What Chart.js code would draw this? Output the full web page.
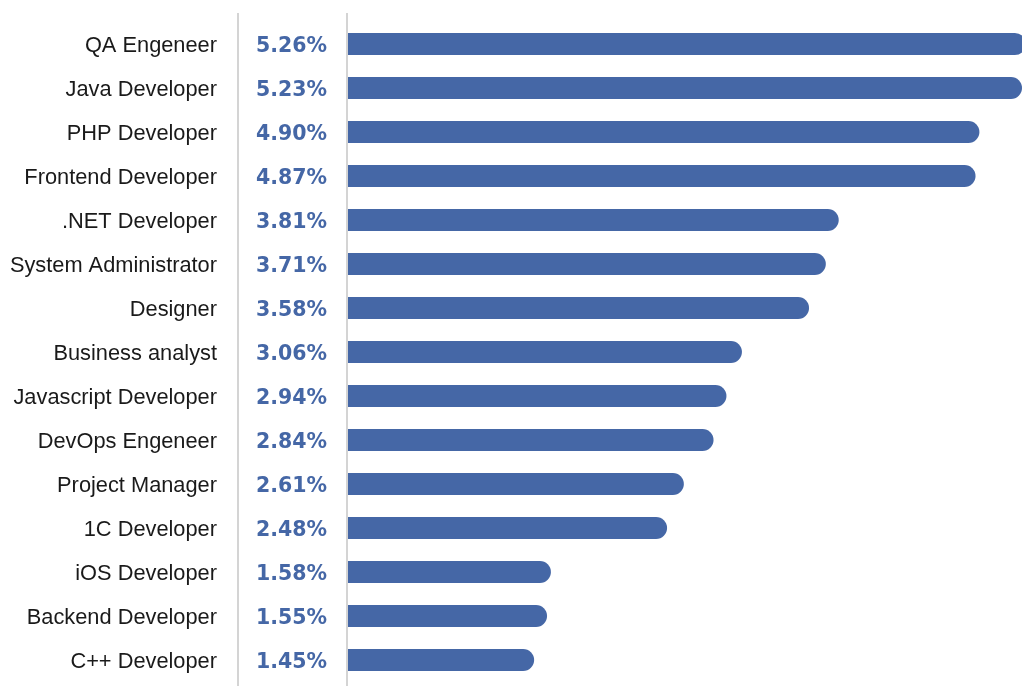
<!DOCTYPE html>
<html>
<head>
<meta charset="utf-8">
<script src="https://cdn.jsdelivr.net/npm/chart.js@4/dist/chart.umd.min.js"></script>
<style>
  html, body { margin: 0; padding: 0; background: #fff; }
  #wrap { width: 1022px; height: 686px; }
</style>
</head>
<body>
<div id="wrap"><canvas id="jobsChart" width="1022" height="686"></canvas></div>
<script>
const jobTitles = [
  "QA Engeneer", "Java Developer", "PHP Developer", "Frontend Developer",
  ".NET Developer", "System Administrator", "Designer", "Business analyst",
  "Javascript Developer", "DevOps Engeneer", "Project Manager", "1C Developer",
  "iOS Developer", "Backend Developer", "C++ Developer"
];
const shares = [5.26, 5.23, 4.90, 4.87, 3.81, 3.71, 3.58, 3.06, 2.94, 2.84, 2.61, 2.48, 1.58, 1.55, 1.45];

const barColor = "#4567a6";
const lineColor = "#d4d4d4";

// value column and the two thin separators on either side of it
const valueColumn = {
  id: "valueColumn",
  afterDraw(chart) {
    const ctx = chart.ctx;
    const y = chart.scales.y;
    const left = chart.chartArea.left;
    ctx.save();
    ctx.strokeStyle = lineColor;
    ctx.lineWidth = 2;
    [238, left].forEach((x) => {
      ctx.beginPath();
      ctx.moveTo(x, 13);
      ctx.lineTo(x, chart.height);
      ctx.stroke();
    });
    ctx.fillStyle = barColor;
    ctx.font = "bold 20.5px 'DejaVu Sans'";
    ctx.textAlign = "right";
    ctx.textBaseline = "middle";
    shares.forEach((v, i) => {
      ctx.fillText(v.toFixed(2) + "%", 327, y.getPixelForValue(i) + 3);
    });
    ctx.restore();
  },
};

new Chart(document.getElementById("jobsChart"), {
  type: "bar",
  data: {
    labels: jobTitles,
    datasets: [{
      data: shares,
      backgroundColor: barColor,
      borderRadius: { topRight: 11, bottomRight: 11 },
      borderSkipped: "start",
      categoryPercentage: 1,
      barPercentage: 0.5,
    }],
  },
  options: {
    indexAxis: "y",
    responsive: false,
    animation: false,
    layout: { padding: { top: 22, bottom: 4, left: 0, right: 0 } },
    plugins: { legend: { display: false }, tooltip: { enabled: false } },
    scales: {
      x: {
        min: 0,
        max: 5.23,
        display: false,
      },
      y: {
        // tick marks are not drawn, their length only spaces the labels off the axis
        grid: { display: false, drawTicks: true, tickLength: 130 },
        border: { display: false },
        afterFit(scale) {
          scale.width = 347;
          scale.paddingTop = 0;
          scale.paddingBottom = 0;
        },
        ticks: {
          padding: 0,
          labelOffset: 2,
          color: "#1a1a1a",
          font: { family: "'Liberation Sans', Arial", size: 21.8 },
        },
      },
    },
  },
  plugins: [valueColumn],
});
</script>
</body>
</html>
